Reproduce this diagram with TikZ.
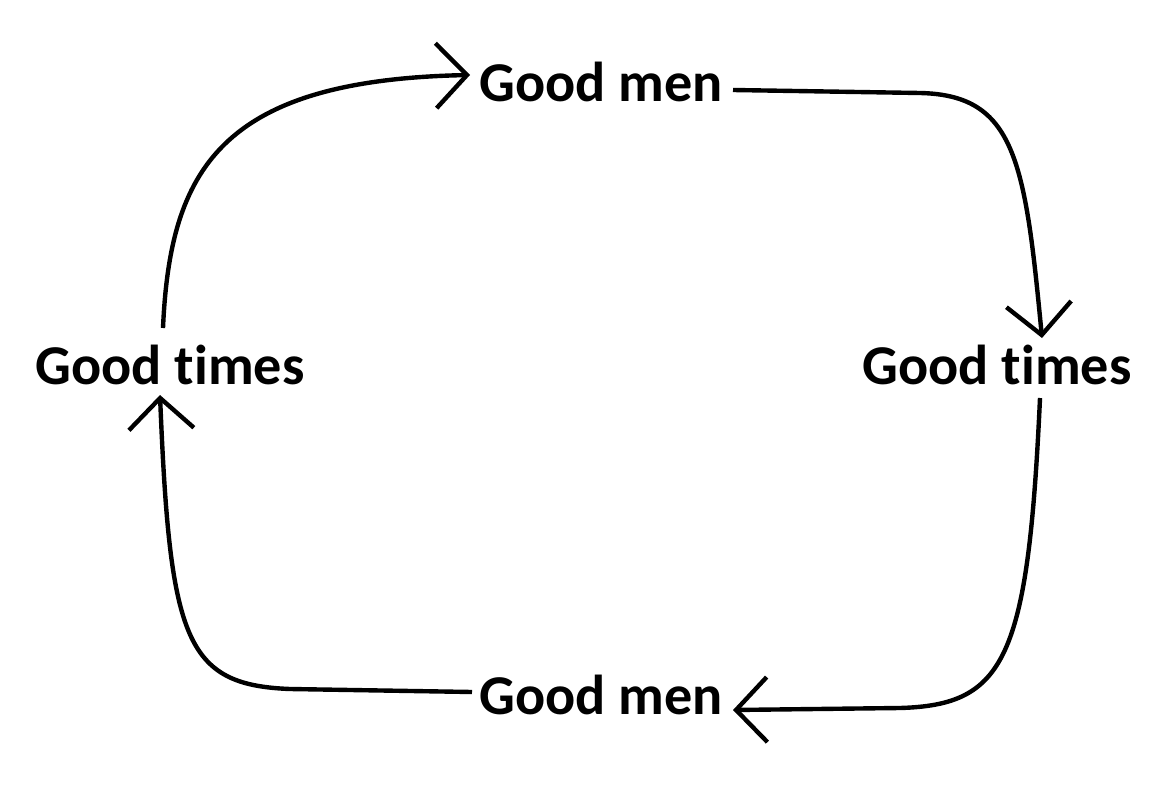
\documentclass[tikz,border=0pt]{standalone}
\usepackage{fontspec}
\setmainfont{Carlito}[Ligatures={NoCommon,NoContextual}]
\usetikzlibrary{arrows.meta}
\begin{document}
\begin{tikzpicture}[x=0.02cm,y=-0.02cm,
  lbl/.style={font=\fontsize{32}{32}\selectfont\bfseries, inner sep=0pt, anchor=base},
  cyc/.style={line width=2.5pt, -{Straight Barb[length=0.62cm,width=1.3cm,line width=2.5pt]}}]
\useasboundingbox (0,0) rectangle (1159,787);
\node[lbl] (tm) at (601,102) {Good men};
\node[lbl] (rt) at (997,384) {Good times};
\node[lbl] (bm) at (601,714) {Good men};
\node[lbl] (lt) at (170,384) {Good times};
\coordinate (a1) at (163,328);
\coordinate (a2) at (470,75);
\coordinate (b1) at (733,90);
\coordinate (b2) at (1042,338);
\coordinate (c1) at (1040,398);
\coordinate (c2) at (733,710);
\coordinate (d1) at (472,692);
\coordinate (d2) at (160,395);
\draw[cyc] (a1) .. controls (170,170) and (220,80) .. (a2);
\draw[cyc] (b1) -- (920,93) .. controls (1015,95) and (1025,160) .. (b2);
\draw[cyc] (c1) .. controls (1028,660) and (1005,705) .. (900,708) -- (c2);
\draw[cyc] (d1) -- (290,689) .. controls (185,685) and (170,640) .. (d2);
\end{tikzpicture}
\end{document}
